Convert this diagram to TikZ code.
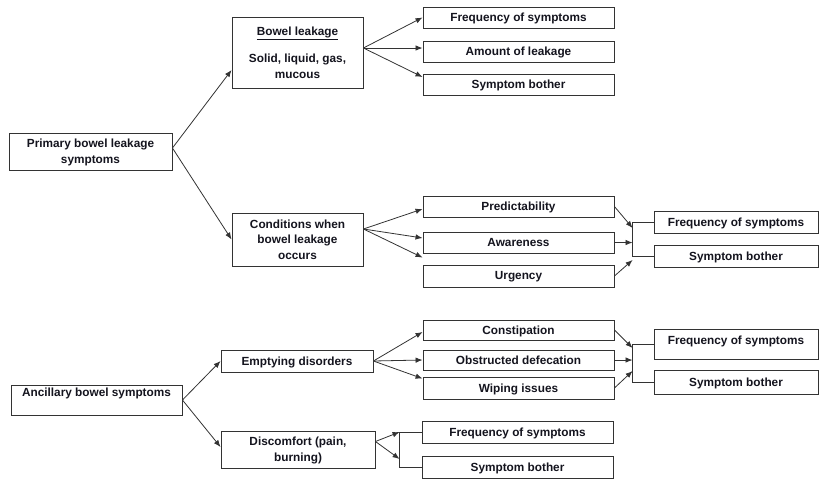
\documentclass[tikz,border=0pt]{standalone}
\usepackage{fontspec}
\setmainfont{Liberation Sans}
\usepackage{tikz}
\usetikzlibrary{calc,arrows.meta}
\definecolor{edge}{HTML}{333333}
\definecolor{ink}{HTML}{14141E}
\tikzset{
  box/.style={draw=edge, line width=0.9pt, fill=white, text=ink, align=center, inner sep=0pt,
    text depth=0.5pt, font=\fontsize{11.8}{15.5}\selectfont\bfseries},
  leafbox/.style={box, minimum width=191pt, minimum height=21pt},
  endbox/.style={box, minimum width=164pt, minimum height=22pt},
  wire/.style={draw=edge, line width=0.8pt},
  arr/.style={wire, -{Latex[length=7pt,width=5.5pt]}},
}

\begin{document}
\begin{tikzpicture}[x=1pt,y=-1pt]
  \useasboundingbox (0,0) rectangle (819,480);

  \node[box, minimum width=163pt, minimum height=37pt] (prim) at (90.5,151.5) {Primary bowel leakage\\symptoms};
  \node[box, minimum width=131pt, minimum height=71pt] (leak) at (297.5,52.5) {\underline{Bowel leakage}\\[12pt]Solid, liquid, gas,\\mucous};
  \node[leafbox] (freqA) at (518.5,17.5) {Frequency of symptoms};
  \node[leafbox] (amount) at (518.5,51.5) {Amount of leakage};
  \node[leafbox] (botherA) at (518.5,84.5) {Symptom bother};

  \node[box, minimum width=131pt, minimum height=53pt] (cond) at (297.5,239.5) {Conditions when\\bowel leakage\\occurs};
  \node[leafbox] (pred) at (518.5,206.5) {Predictability};
  \node[leafbox] (aware) at (518.5,242.5) {Awareness};
  \node[leafbox, minimum height=22pt] (urg) at (518.5,276) {Urgency};
  \node[endbox] (freqB) at (736,222) {Frequency of symptoms};
  \node[endbox] (botherB) at (736,256) {Symptom bother};

  \node[box, minimum width=171pt, minimum height=30pt] (anc) at (96.5,400) {Ancillary bowel symptoms\\\mbox{}};
  \node[box, minimum width=152pt, minimum height=22pt] (empty) at (297,361) {Emptying disorders};
  \node[box, minimum width=154pt, minimum height=37pt] (disc) at (298,449.5) {Discomfort (pain,\\burning)};
  \node[leafbox, minimum height=20pt] (const) at (518.5,330) {Constipation};
  \node[leafbox, minimum height=20pt] (obstr) at (518.5,360) {Obstructed defecation};
  \node[leafbox, minimum height=22pt] (wipe) at (518.5,388) {Wiping issues};
  \node[endbox, minimum height=30pt, text depth=7pt] (freqC) at (736,344) {Frequency of symptoms};
  \node[endbox, minimum height=24pt] (botherC) at (736,382) {Symptom bother};
  \node[leafbox, minimum height=22pt] (freqD) at (517.5,432) {Frequency of symptoms};
  \node[leafbox, minimum height=22pt] (botherD) at (517.5,467) {Symptom bother};

  \draw[arr] ([yshift=3.5pt]prim.east) -- ([yshift=-17.5pt]leak.west);
  \draw[arr] ([yshift=3.5pt]prim.east) -- (cond.west);
  \draw[arr] ([yshift=4.5pt]leak.east) -- (freqA.west);
  \draw[arr] ([yshift=4.5pt]leak.east) -- ([yshift=3.5pt]amount.west);
  \draw[arr] ([yshift=4.5pt]leak.east) -- ([yshift=7.5pt]botherA.west);
  \draw[arr] ([yshift=10.5pt]cond.east) -- ([yshift=-2.5pt]pred.west);
  \draw[arr] ([yshift=10.5pt]cond.east) -- ([yshift=4.5pt]aware.west);
  \draw[arr] ([yshift=10.5pt]cond.east) -- ([yshift=7pt]urg.north west);

  \draw[wire] (freqB.west) -- ++(-21,0) coordinate (jB) |- (botherB.west);
  \draw[arr] (pred.east) -- ([yshift=-6pt]jB);
  \draw[arr] (aware.east) -- (aware.east -| jB);
  \draw[arr] (urg.east) -- ($(jB)+(0,38)$);

  \draw[arr] (anc.east) -- (empty.west);
  \draw[arr] (anc.east) -- ([yshift=2.5pt]disc.west);
  \draw[arr] (empty.east) -- ([yshift=-2pt]const.west);
  \draw[arr] (empty.east) -- (obstr.west);
  \draw[arr] (empty.east) -- ([yshift=-2pt]wipe.north west);

  \draw[wire] (freqC.west) -- ++(-21,0) coordinate (jC) |- (botherC.west);
  \draw[arr] (const.east) -- ([yshift=-4pt]jC);
  \draw[arr] (obstr.east) -- (obstr.east -| jC);
  \draw[arr] (wipe.east) -- ($(jC)+(0,27)$);

  \draw[wire] (freqD.west) -- ++(-22,0) coordinate (jD) |- (botherD.west);
  \draw[arr] ([yshift=8pt]disc.east) -- (jD);
  \draw[arr] ([yshift=8pt]disc.east) -- ($(jD)+(0,27)$);
\end{tikzpicture}
\end{document}
